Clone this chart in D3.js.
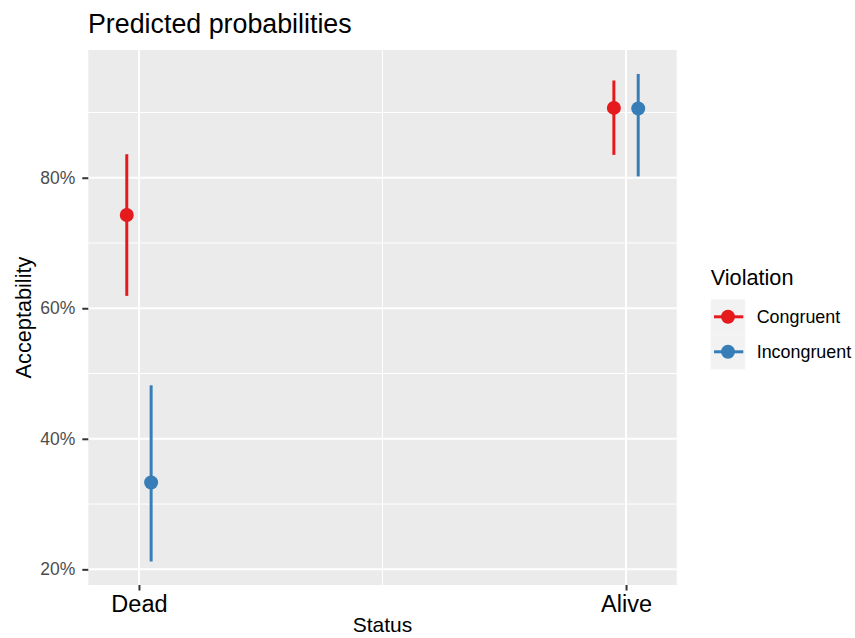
<!DOCTYPE html>
<html>
<head>
<meta charset="utf-8">
<script src="https://cdn.jsdelivr.net/npm/d3@7.9.0/dist/d3.min.js"></script>
<style>
  body { margin: 0; background: #fff; }
  svg { font-family: "Liberation Sans", Arial, Helvetica, sans-serif; }
</style>
</head>
<body>
<svg id="chart" width="855" height="638"></svg>
<script>
// Data
const statuses = ["Dead", "Alive"];
const violations = ["Congruent", "Incongruent"];
const colors = ["#E41A1C", "#377EB8"];
// estimate, lower, upper per violation, in status order
const estimate = [[0.743, 0.907], [0.333, 0.906]];
const lower = [[0.619, 0.835], [0.212, 0.802]];
const upper = [[0.836, 0.949], [0.482, 0.959]];
const yTicks = [0.2, 0.4, 0.6, 0.8];
const yMinor = [0.3, 0.5, 0.7, 0.9];

const svg = d3.select("#chart");

// Panel box
const panel = { left: 88.3, right: 676.7, top: 50, bottom: 585 };

// x: statuses at 1 and 2, expanded a bit
const x = d3.scaleLinear().domain([0.896, 2.104]).range([panel.left, panel.right]);
const dodge = 0.025; // in x units
const y = d3.scaleLinear().domain([0.176, 0.9957]).range([panel.bottom, panel.top]);

// background
svg.append("rect")
  .attr("x", panel.left).attr("y", panel.top)
  .attr("width", panel.right - panel.left).attr("height", panel.bottom - panel.top)
  .attr("fill", "#EBEBEB");

// minor grid
svg.append("g").selectAll("line").data(yMinor).join("line")
  .attr("x1", panel.left).attr("x2", panel.right)
  .attr("y1", d => y(d)).attr("y2", d => y(d))
  .attr("stroke", "#fff").attr("stroke-width", 1);
svg.append("line")
  .attr("x1", x(1.5)).attr("x2", x(1.5))
  .attr("y1", panel.top).attr("y2", panel.bottom)
  .attr("stroke", "#fff").attr("stroke-width", 1);

// major grid
svg.append("g").selectAll("line").data(yTicks).join("line")
  .attr("x1", panel.left).attr("x2", panel.right)
  .attr("y1", d => y(d)).attr("y2", d => y(d))
  .attr("stroke", "#fff").attr("stroke-width", 2);
svg.append("g").selectAll("line").data(statuses).join("line")
  .attr("x1", (d, i) => x(i + 1)).attr("x2", (d, i) => x(i + 1))
  .attr("y1", panel.top).attr("y2", panel.bottom)
  .attr("stroke", "#fff").attr("stroke-width", 2);

// y axis
const yAxis = svg.append("g")
  .attr("transform", `translate(${panel.left},0)`)
  .call(d3.axisLeft(y).tickValues(yTicks).tickFormat(d3.format(".0%")).tickSize(6).tickPadding(7));
yAxis.select(".domain").remove();
yAxis.selectAll(".tick line").attr("stroke", "#333").attr("stroke-width", 2);
yAxis.selectAll(".tick text").attr("fill", "#4D4D4D").style("font-size", "17.5px");

// x axis
const xAxis = svg.append("g")
  .attr("transform", `translate(0,${panel.bottom})`)
  .call(d3.axisBottom(x).tickValues([1, 2]).tickFormat(d => statuses[d - 1]).tickSize(5.5).tickPadding(4.5));
xAxis.select(".domain").remove();
xAxis.selectAll(".tick line").attr("stroke", "#333").attr("stroke-width", 2);
xAxis.selectAll(".tick text").attr("fill", "#000").style("font-size", "23.5px");

// axis titles
svg.append("text")
  .attr("x", (panel.left + panel.right) / 2).attr("y", 632)
  .attr("text-anchor", "middle").style("font-size", "21px").text("Status");
svg.append("text")
  .attr("transform", `translate(31,${(panel.top + panel.bottom) / 2}) rotate(-90)`)
  .attr("text-anchor", "middle").style("font-size", "21.7px").text("Acceptability");

// title
svg.append("text")
  .attr("x", 88).attr("y", 33.3)
  .style("font-size", "26.8px").text("Predicted probabilities");

// point ranges
violations.forEach((v, vi) => {
  const g = svg.append("g");
  const off = vi === 0 ? -dodge : dodge;
  statuses.forEach((s, si) => {
    const cx = x(si + 1 + off);
    g.append("line")
      .attr("x1", cx).attr("x2", cx)
      .attr("y1", y(lower[vi][si])).attr("y2", y(upper[vi][si]))
      .attr("stroke", colors[vi]).attr("stroke-width", 3);
    g.append("circle")
      .attr("cx", cx).attr("cy", y(estimate[vi][si]))
      .attr("r", 7).attr("fill", colors[vi]);
  });
});

// legend
const legend = svg.append("g");
legend.append("text")
  .attr("x", 710.7).attr("y", 285)
  .style("font-size", "21.7px").text("Violation");
violations.forEach((v, i) => {
  const ky = 299.3 + i * 35;
  legend.append("rect")
    .attr("x", 710.7).attr("y", ky).attr("width", 34.5).attr("height", 35)
    .attr("fill", "#F2F2F2");
  legend.append("line")
    .attr("x1", 714).attr("x2", 743.3).attr("y1", ky + 17.5).attr("y2", ky + 17.5)
    .attr("stroke", colors[i]).attr("stroke-width", 3);
  legend.append("circle")
    .attr("cx", 728).attr("cy", ky + 17.5).attr("r", 7).attr("fill", colors[i]);
  legend.append("text")
    .attr("x", 756.7).attr("y", ky + 17.5).attr("dy", "0.35em")
    .style("font-size", "17.9px").text(v);
});
</script>
</body>
</html>
